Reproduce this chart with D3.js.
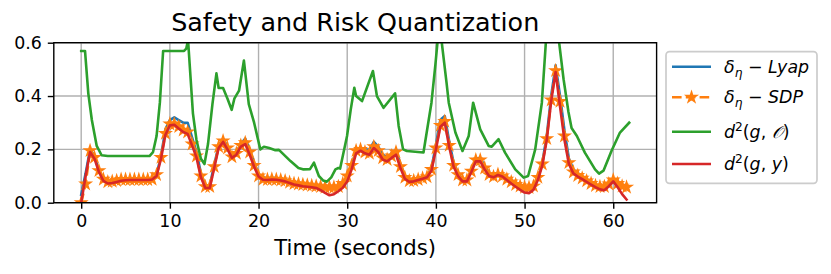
<!DOCTYPE html>
<html>
<head>
<meta charset="utf-8">
<title>Safety and Risk Quantization</title>
<script src="https://cdn.jsdelivr.net/npm/d3@7"></script>
<style>
  body { margin: 0; background: #fff; }
  text { font-family: "DejaVu Sans", sans-serif; fill: #000; }
</style>
</head>
<body>
<div id="chart"></div>
<script>
// sample times (s) for the three close curves, step of the logged data
var t = d3.range(0, 124).map(function(i){ return i * 0.5; });

// delta_eta - Lyap
var lyap = [0.03,0.11,0.20,0.175,0.12,0.09,0.08,0.08,0.083,0.086,0.088,0.088,0.088,0.088,0.088,0.088,
  0.09,0.105,0.175,0.275,0.31,0.32,0.31,0.30,0.30,0.245,0.19,0.11,0.065,0.065,0.14,0.215,
  0.24,0.21,0.178,0.19,0.22,0.24,0.20,0.15,0.108,0.095,0.092,0.093,0.092,0.09,0.087,0.082,
  0.076,0.072,0.07,0.068,0.066,0.063,0.06,0.058,0.056,0.056,0.058,0.068,0.095,0.14,0.195,0.205,
  0.20,0.198,0.228,0.21,0.18,0.17,0.185,0.198,0.145,0.10,0.088,0.088,0.09,0.095,0.10,0.13,
  0.215,0.31,0.325,0.23,0.15,0.11,0.088,0.088,0.12,0.165,0.168,0.138,0.11,0.103,0.11,0.105,
  0.092,0.08,0.068,0.058,0.052,0.05,0.055,0.09,0.15,0.25,0.40,0.515,0.40,0.27,0.165,0.125,
  0.11,0.098,0.088,0.077,0.067,0.058,0.055,0.065,0.082,0.07,0.06,0.055];

// delta_eta - SDP
var sdp = [0.0,0.07,0.195,0.17,0.12,0.088,0.078,0.08,0.083,0.087,0.087,0.087,0.087,0.087,0.087,0.087,
  0.088,0.105,0.17,0.26,0.295,0.295,0.285,0.272,0.265,0.22,0.175,0.10,0.06,0.06,0.135,0.21,
  0.232,0.205,0.172,0.185,0.215,0.225,0.19,0.14,0.10,0.088,0.087,0.088,0.087,0.085,0.082,0.076,
  0.072,0.07,0.068,0.066,0.064,0.062,0.06,0.058,0.058,0.058,0.06,0.072,0.10,0.14,0.195,0.20,
  0.19,0.185,0.21,0.195,0.168,0.162,0.175,0.19,0.135,0.095,0.082,0.083,0.087,0.092,0.097,0.125,
  0.205,0.29,0.305,0.215,0.14,0.105,0.085,0.085,0.118,0.16,0.16,0.13,0.105,0.098,0.106,0.10,
  0.088,0.078,0.068,0.062,0.058,0.057,0.062,0.095,0.145,0.24,0.385,0.495,0.38,0.25,0.15,0.115,
  0.102,0.092,0.082,0.072,0.064,0.06,0.06,0.07,0.085,0.072,0.062,0.058];

// d^2(g, y)
var dgy = [0.0,0.10,0.19,0.165,0.115,0.082,0.072,0.074,0.078,0.082,0.084,0.085,0.085,0.085,0.085,0.085,
  0.087,0.10,0.165,0.255,0.29,0.292,0.278,0.265,0.258,0.215,0.17,0.095,0.055,0.055,0.13,0.205,
  0.228,0.20,0.168,0.18,0.21,0.22,0.18,0.135,0.098,0.086,0.085,0.087,0.086,0.083,0.08,0.074,
  0.068,0.065,0.062,0.06,0.058,0.055,0.047,0.037,0.028,0.032,0.043,0.056,0.08,0.125,0.185,0.195,
  0.185,0.18,0.205,0.19,0.162,0.155,0.168,0.18,0.13,0.09,0.078,0.08,0.085,0.09,0.095,0.12,
  0.20,0.285,0.30,0.21,0.135,0.10,0.08,0.08,0.115,0.155,0.155,0.125,0.10,0.095,0.104,0.098,
  0.085,0.072,0.06,0.048,0.038,0.036,0.048,0.085,0.14,0.235,0.38,0.49,0.36,0.235,0.145,0.11,
  0.098,0.088,0.078,0.068,0.058,0.05,0.047,0.062,0.08,0.058,0.032,0.012];

// d^2(g, O) has its own break points (sharp spikes)
var obsT = [0,0.43,0.8,1.2,1.75,2.3,3.0,7.7,8.1,8.5,8.87,9.24,11.6,11.85,12.05,12.6,13.0,13.5,13.9,14.3,
  14.8,15.25,15.5,16.0,16.5,16.97,17.27,17.8,18.35,18.9,19.5,20.2,20.6,21.2,21.9,22.3,23.6,24.5,25.0,25.8,
  26.25,26.8,27.3,27.7,28.2,28.67,29.0,29.2,29.98,30.4,30.8,31.0,31.67,32.9,33.35,34.1,35.4,35.8,36.3,36.73,
  38.6,39.5,39.95,40.4,40.7,41.2,41.45,42.2,43.0,43.7,44.2,45.0,45.95,46.3,47.07,47.8,48.95,49.9,50.4,51.2,
  51.95,52.4,53.1,53.9,54.4,54.95,55.3,55.9,56.8,57.95,58.4,58.9,59.8,60.76,61.8];
var obsV = [0.569,0.569,0.41,0.31,0.213,0.178,0.175,0.175,0.19,0.25,0.375,0.569,0.569,0.578,0.61,0.335,0.235,0.165,0.145,0.22,
  0.37,0.485,0.43,0.43,0.39,0.348,0.39,0.42,0.533,0.37,0.30,0.20,0.21,0.205,0.197,0.198,0.156,0.13,0.125,0.126,
  0.15,0.10,0.083,0.079,0.095,0.125,0.13,0.128,0.25,0.35,0.431,0.40,0.381,0.494,0.40,0.356,0.41,0.288,0.20,0.194,
  0.188,0.375,0.52,0.68,0.59,0.45,0.375,0.263,0.194,0.25,0.375,0.275,0.213,0.21,0.238,0.188,0.125,0.094,0.10,0.20,
  0.375,0.60,0.78,0.60,0.463,0.34,0.28,0.25,0.188,0.125,0.109,0.12,0.194,0.263,0.30];

var yTicks = [0.0, 0.2, 0.4, 0.6];
var xTicks = [0, 10, 20, 30, 40, 50, 60];

var W = 831, H = 274;
var L = 53.8, R = 656.6, T = 42.7, B = 202.7;

var tMax = d3.max([d3.max(t), d3.max(obsT)]);
var pad = 0.05 * tMax;
var x = d3.scaleLinear().domain([-pad, tMax + pad]).range([L, R]);
var y = d3.scaleLinear().domain([0, 0.6]).range([B, T]);

var svg = d3.select("#chart").append("svg").attr("width", W).attr("height", H);

svg.append("defs").append("clipPath").attr("id", "clip")
  .append("rect").attr("x", L).attr("y", T).attr("width", R - L).attr("height", B - T);

// grid
var grid = svg.append("g").attr("stroke", "#b0b0b0").attr("stroke-width", 1.4);
grid.selectAll(".gx").data(xTicks).enter().append("line")
  .attr("x1", function(d){ return x(d); }).attr("x2", function(d){ return x(d); })
  .attr("y1", T).attr("y2", B);
grid.selectAll(".gy").data(yTicks).enter().append("line")
  .attr("y1", function(d){ return y(d); }).attr("y2", function(d){ return y(d); })
  .attr("x1", L).attr("x2", R);

var line = d3.line().x(function(d){ return x(d[0]); }).y(function(d){ return y(d[1]); });
var plot = svg.append("g").attr("clip-path", "url(#clip)");

function pairs(ts, vs){ return ts.map(function(v, i){ return [v, vs[i]]; }); }

var series = [
  {name: "lyap", data: pairs(t, lyap), color: "#1f77b4"},
  {name: "sdp", data: pairs(t, sdp), color: "#ff7f0e", dash: "9.6,4.2", marker: true},
  {name: "obs", data: pairs(obsT, obsV), color: "#2ca02c"},
  {name: "dgy", data: pairs(t, dgy), color: "#d62728"}
];

var star = d3.symbol().type(d3.symbolStar).size(30);

series.forEach(function(s){
  plot.append("path").datum(s.data)
    .attr("d", line).attr("fill", "none")
    .attr("stroke", s.color).attr("stroke-width", 2.6)
    .attr("stroke-dasharray", s.dash || null)
    .attr("stroke-linejoin", "round").attr("stroke-linecap", s.dash ? "butt" : "square");
  if (s.marker) {
    plot.append("g").selectAll("path").data(s.data).enter().append("path")
      .attr("d", star)
      .attr("transform", function(d){ return "translate(" + x(d[0]) + "," + y(d[1]) + ")"; })
      .attr("fill", s.color).attr("stroke", s.color).attr("stroke-width", 1.7);
  }
});

// axes
var xAxis = svg.append("g").attr("transform", "translate(0," + B + ")")
  .call(d3.axisBottom(x).tickValues(xTicks).tickSize(6).tickPadding(6).tickFormat(d3.format("d")));
var yAxis = svg.append("g").attr("transform", "translate(" + L + ",0)")
  .call(d3.axisLeft(y).tickValues(yTicks).tickSize(6).tickPadding(6).tickFormat(d3.format(".1f")));
[xAxis, yAxis].forEach(function(a){
  a.select(".domain").remove();
  a.selectAll(".tick line").attr("stroke", "#000").attr("stroke-width", 1.4);
  a.selectAll(".tick text").attr("font-size", 17.4).attr("font-family", "DejaVu Sans").attr("fill", "#000");
});

// frame
svg.append("rect").attr("x", L).attr("y", T).attr("width", R - L).attr("height", B - T)
  .attr("fill", "none").attr("stroke", "#000").attr("stroke-width", 1.4);

svg.append("text").attr("x", (L + R) / 2).attr("y", 31).attr("text-anchor", "middle")
  .attr("font-size", 25.4).text("Safety and Risk Quantization");
svg.append("text").attr("x", (L + R) / 2).attr("y", 255).attr("text-anchor", "middle")
  .attr("font-size", 21.2).text("Time (seconds)");

// legend
var lg = svg.append("g");
lg.append("rect").attr("x", 666).attr("y", 51.7).attr("width", 151).attr("height", 131.6)
  .attr("rx", 3.5).attr("fill", "#fff").attr("fill-opacity", 0.8)
  .attr("stroke", "#ccc").attr("stroke-width", 1.7);

var rowsY = [66.7, 97.3, 131.7, 164];
series.forEach(function(s, i){
  var yy = rowsY[i];
  lg.append("line").attr("x1", 672).attr("x2", 711).attr("y1", yy).attr("y2", yy)
    .attr("stroke", s.color).attr("stroke-width", 2.6).attr("stroke-dasharray", s.dash || null);
  if (s.marker) {
    lg.append("path").attr("d", star).attr("transform", "translate(691.5," + yy + ")")
      .attr("fill", s.color).attr("stroke", s.color).attr("stroke-width", 1.7);
  }
});

function label(i){
  var tx = lg.append("text").attr("x", 724).attr("y", rowsY[i] + 6).attr("font-size", 17.4);
  return tx;
}
var l0 = label(0);
l0.append("tspan").attr("font-style", "italic").text("δ");
l0.append("tspan").attr("font-style", "italic").attr("font-size", 12.2).attr("dy", 4).text("η");
l0.append("tspan").attr("dy", -4).text(" − ");
l0.append("tspan").attr("font-style", "italic").text("Lyap");

var l1 = label(1);
l1.append("tspan").attr("font-style", "italic").text("δ");
l1.append("tspan").attr("font-style", "italic").attr("font-size", 12.2).attr("dy", 4).text("η");
l1.append("tspan").attr("dy", -4).text(" − ");
l1.append("tspan").attr("font-style", "italic").text("SDP");

[2, 3].forEach(function(i){
  var tx = label(i);
  tx.append("tspan").attr("font-style", "italic").text("d");
  tx.append("tspan").attr("font-size", 12.2).attr("dy", -7).text("2");
  tx.append("tspan").attr("dy", 7).text("(");
  tx.append("tspan").attr("font-style", "italic").text("g");
  tx.append("tspan").text(", ");
  tx.append("tspan").attr("font-style", "italic").text(i == 2 ? "𝒪" : "y");
  tx.append("tspan").text(")");
});
</script>
</body>
</html>
